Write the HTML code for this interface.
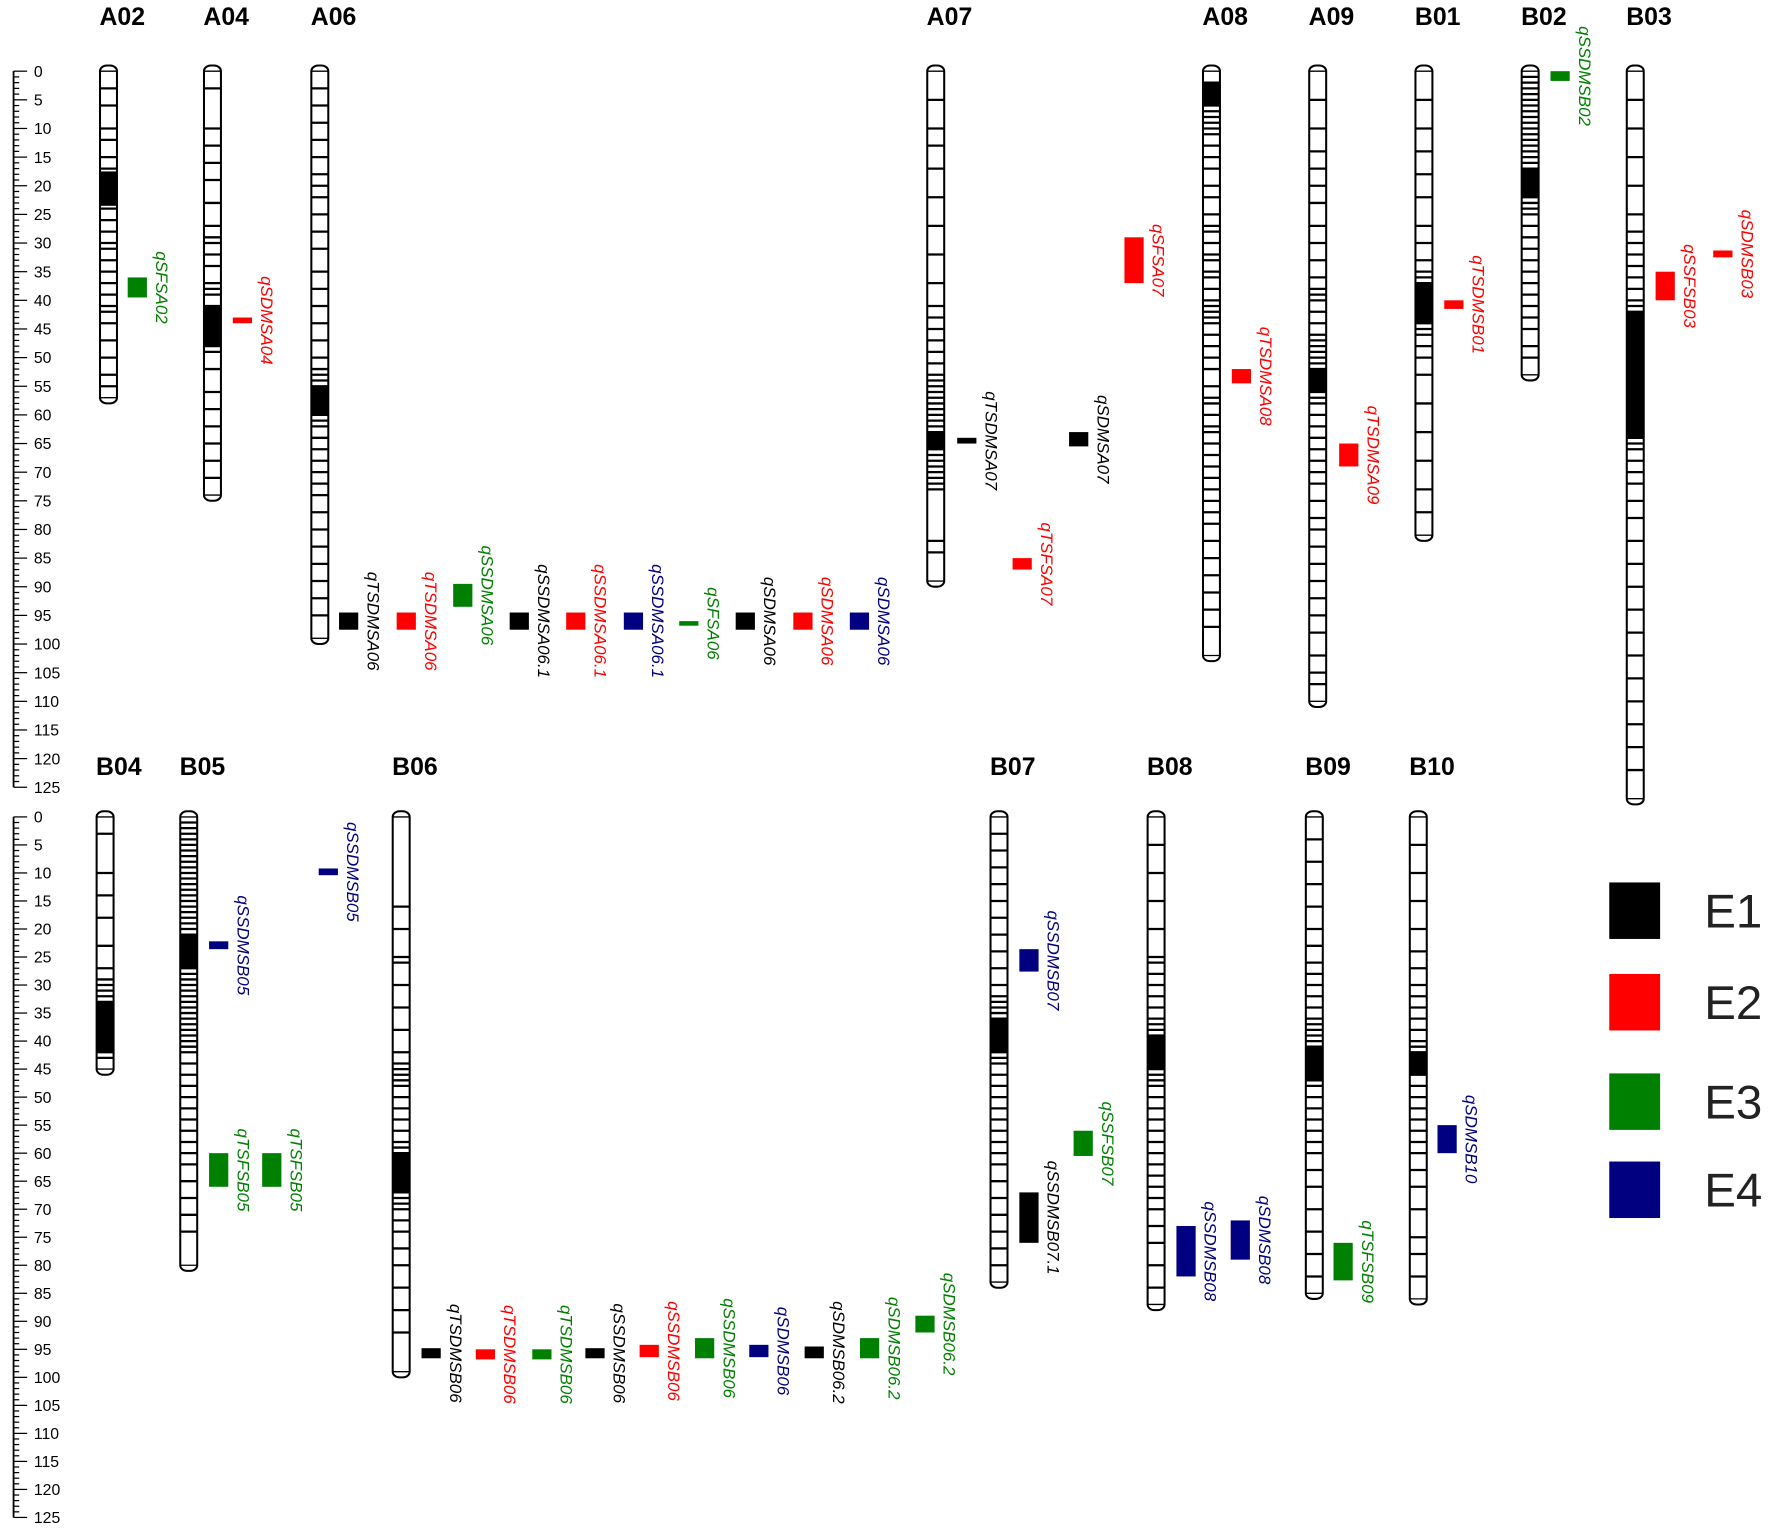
<!DOCTYPE html>
<html><head><meta charset="utf-8">
<style>
html,body{margin:0;padding:0;background:#fff;}
svg{display:block;}
text{font-family:"Liberation Sans",sans-serif;}
</style></head>
<body>
<svg id="chart" width="1772" height="1531" viewBox="0 0 1568 1355" preserveAspectRatio="none" xmlns="http://www.w3.org/2000/svg"></svg>
<script>
// ---- data ----
const chromNames = ["A02","A04","A06","A07","A08","A09","B01","B02","B03","B04","B05","B06","B07","B08","B09","B10"];
const chromLengths = [57,74,99,89,102,110,81,53,127,45,80,99,83,87,85,86];
const chromPanel = [0,0,0,0,0,0,0,0,0,1,1,1,1,1,1,1];
const chromMarkers = [
 [3,6,10,12,15,17,18,18.5,19,19.5,20,20.5,21,21.5,22,22.5,23,24,26,28,30,31,33,35,37,39,41,42,44,47,50,53,55],
 [3,10,13,16,19,23,27,29,30,32,34,37,38,39,41,41.5,42,42.5,43,43.5,44,44.5,45,46,47,48,49,52,56,59,62,65,68,71],
 [3,6,9,12,15,18,20,22,25,28,31,35,38,41,44,47,50,52,53,54,55,56,57,57.5,58,58.5,59,60,61,62,64,66,68,70,72,74,77,80,83,86,89,92,95],
 [5,10,13,17,22,27,32,37,41,43,45,47,49,51,53,54,55,56,57,58,59,60,61,62,63,63.5,64,64.5,65,66,67,68,69,70,71,72,73,82,84],
 [2,3,4,5,6,7,8,9,10,11,13,15,17,20,22,25,27,28,30,32,33,35,36,38,40,41,42,43,44,46,48,50,52,55,57,58,60,62,63,65,67,69,71,73,75,77,79,82,85,88,91,94,97],
 [5,10,14,17,20,23,27,30,33,36,38,39,40,42,44,46,47,48,49,50,51,52,53,53.5,54,54.5,55,56,57,58,60,62,64,66,68,70,72,75,78,80,83,86,89,92,95,98,102,105,107],
 [5,10,14,18,22,27,30,33,35,36,37,38,38.5,39,39.5,40,41,42,43,44,45,46,48,50,53,58,63,68,73,77],
 [1,2,3,4,5,6,7,8,9,10,11,12,13,14,15,16,17,18,18.5,19,19.5,20,21,22,23,24,25,27,29,31,33,35,37,39,41,43,45,48,50],
 [5,10,15,20,25,28,30,32,34,36,38,40,41,42,43,44,45,46,47,48,49,50,51,52,53,54,55,56,57,58,59,60,61,62,63,64,65,66,68,70,72,75,78,82,86,90,94,98,102,106,110,114,118,122],
 [3,10,14,18,23,27,29,30,31,32,33,34,35,36,37,38,39,40,41,42,43],
 [1,2,3,4,5,6,7,8,9,10,11,12,13,14,15,16,17,18,19,20,21,22,23,23.5,24,24.5,25,26,27,28,29,30,31,32,33,34,35,36,37,38,39,40,41,42,44,46,48,50,52,54,56,58,60,62,65,68,71,74],
 [16,20,25,26,30,34,38,42,44,45,46,47,48,50,52,54,56,58,59,60,61,62,62.5,63,63.5,64,65,66,67,68,69,70,72,74,77,80,84,88,92],
 [3,6,9,12,15,18,21,24,27,30,32,33,34,35,36,37,38,38.5,39,39.5,40,41,42,43,44,46,48,50,52,54,56,58,60,62,65,68,71,74,77,80],
 [5,10,15,20,25,26,28,30,32,34,36,37,38,39,40,40.5,41,41.5,42,43,44,45,46,47,48,50,52,54,56,58,60,62,64,66,68,70,73,76,80,84],
 [4,8,12,16,20,23,26,28,30,32,34,36,37,38,39,40,41,42,43,43.5,44,45,46,47,48,50,52,54,56,58,60,63,66,70,74,78,82],
 [5,10,15,20,24,27,30,32,34,36,38,40,41,42,43,43.5,44,44.5,45,46,48,50,52,54,56,58,60,63,66,70,75,78,82]
];
// dense marker clusters (start cM, end cM) drawn solid
const denseStart = [17.5,41,55,63,2,52,37,17,42,33,21,60,36,39,41,42];
const denseEnd   = [23.5,48,60,66,6,56,44,22,64,42,27,67,42,45,47,46];
const qtlNames = ["qSFSA02","qSDMSA04","qTSDMSA06","qTSDMSA06","qSSDMSA06","qSSDMSA06.1","qSSDMSA06.1","qSSDMSA06.1","qSFSA06","qSDMSA06","qSDMSA06","qSDMSA06",
 "qTSDMSA07","qSDMSA07","qTSFSA07","qSFSA07","qTSDMSA08","qTSDMSA09","qTSDMSB01","qSSDMSB02","qSSFSB03","qSDMSB03",
 "qSSDMSB05","qSSDMSB05","qTSFSB05","qTSFSB05",
 "qTSDMSB06","qTSDMSB06","qTSDMSB06","qSSDMSB06","qSSDMSB06","qSSDMSB06","qSDMSB06","qSDMSB06.2","qSDMSB06.2","qSDMSB06.2",
 "qSSDMSB07","qSSFSB07","qSSDMSB07.1","qSSDMSB08","qSDMSB08","qTSFSB09","qSDMSB10"];
const qtlPanel = [0,0,0,0,0,0,0,0,0,0,0,0, 0,0,0,0,0,0,0,0,0,0, 1,1,1,1, 1,1,1,1,1,1,1,1,1,1, 1,1,1,1,1,1,1];
const qtlStart = [36,43,94.5,94.5,89.5,94.5,94.5,94.5,96,94.5,94.5,94.5, 64,63,85,29,52,65,40,0,35,31.3, 22.2,9.2,60,60, 94.8,95,95,94.8,94.2,93,94.2,94.5,93,89, 23.6,56,67,73,72,76,55];
const qtlEnd   = [39.5,44,97.5,97.5,93.5,97.5,97.5,97.5,96.8,97.5,97.5,97.5, 65,65.5,87,37,54.5,69,41.5,1.7,40,32.5, 23.6,10.4,66,66, 96.6,96.8,96.8,96.6,96.4,96.6,96.4,96.6,96.6,92, 27.6,60.5,76,82,79,82.7,60];
const qtlEnv   = [3,2,1,2,3,1,2,4,3,1,2,4, 1,1,2,2,2,2,2,3,2,2, 4,4,3,3, 1,2,3,1,2,3,4,1,3,3, 4,3,1,4,4,3,4];
const legendLabels = ["E1","E2","E3","E4"];
const rulerTicks = [0,5,10,15,20,25,30,35,40,45,50,55,60,65,70,75,80,85,90,95,100,105,110,115,120,125];

// ---- layout (not data) ----
const envColors = ["#000000","#ff0000","#008000","#000080"];
const panelY0 = [63,723], panelScale = [5.07,4.96];
const chromCX = [96,188,283,828,1072,1166,1260,1354,1447, 93,167,355,884,1023,1163,1255];
const chromLabelY = [22,686];
const qtlX = [113,206,300,351,401,451,501,552,601,651,702,752, 847,946,896,995,1090,1185,1278,1372,1465,1516, 185,282,185,232, 373,421,471,518,566,615,663,712,761,810, 902,950,902,1041,1089,1180,1272];

function yScale(p,cm){return panelY0[p]+cm*panelScale[p];}
const svg=document.getElementById('chart');
const NS="http://www.w3.org/2000/svg";
function mk(tag,attrs,parent){const e=document.createElementNS(NS,tag);for(const k in attrs)e.setAttribute(k,attrs[k]);(parent||svg).appendChild(e);return e;}

// rulers
for(let p=0;p<2;p++){
  const g=mk('g',{});
  
  
  mk('line',{x1:12,x2:12,y1:yScale(p,0),y2:yScale(p,125),stroke:'#000','stroke-width':1.6},g);
  for(let c=0;c<=125;c++){
    const y=yScale(p,c);
    const len = c%5===0?12:5;
    mk('line',{x1:12,x2:12+len,y1:y,y2:y,stroke:'#000','stroke-width':1.1},g);
  }
  rulerTicks.forEach(t=>{
    const tx=mk('text',{x:30,y:yScale(p,t)+5,'font-size':14,fill:'#000'},g);
    
    
    tx.textContent=t;
  });
}

// chromosomes
chromNames.forEach((n,i)=>{
  const p=chromPanel[i], cx=chromCX[i], w=15;
  const g=mk('g',{});
  
  
  const t=mk('text',{x:cx-8,y:chromLabelY[p],'font-size':22,'font-weight':'bold',fill:'#000'},g);
  
  
  t.textContent=n;
  const y0=yScale(p,0), y1=yScale(p,chromLengths[i]);
  mk('rect',{x:cx-w/2,y:y0-5,width:w,height:y1-y0+10,rx:6,ry:5,fill:'#fff',stroke:'#000','stroke-width':1.8},g);
  mk('line',{x1:cx-w/2,x2:cx+w/2,y1:y0,y2:y0,stroke:'#000','stroke-width':1.2},g);
  mk('line',{x1:cx-w/2,x2:cx+w/2,y1:y1,y2:y1,stroke:'#000','stroke-width':1.2},g);
  chromMarkers[i].forEach(m=>{
    if(m>chromLengths[i])return;
    const y=yScale(p,m);
    const l=mk('line',{x1:cx-w/2,x2:cx+w/2,y1:y,y2:y,stroke:'#000','stroke-width':2},g);
    
    
  });
  const ds=yScale(p,denseStart[i]), de=yScale(p,denseEnd[i]);
  const d=mk('rect',{x:cx-w/2,y:ds,width:w,height:de-ds,fill:'#000'},g);
  
  
});

// QTLs
qtlNames.forEach((n,i)=>{
  const p=qtlPanel[i], x=qtlX[i], col=envColors[qtlEnv[i]-1];
  const y0=yScale(p,qtlStart[i]); let h=yScale(p,qtlEnd[i])-y0; let yy=y0;
  if(h<3.5){yy=y0+h/2-1.75;h=3.5;}
  const r=mk('rect',{x:x,y:yy,width:17,height:h,fill:col});
  
  
  const cy=yy+h/2;
  const t=mk('text',{transform:`translate(${x+25},${cy}) rotate(90)`,'text-anchor':'middle','font-size':15,'font-style':'italic',fill:col});
  
  
  t.textContent=n;
});

// legend
const lgY=[781,862,950,1028];
legendLabels.forEach((l,i)=>{
  const g=mk('g',{});
  
  
  mk('rect',{x:1424,y:lgY[i],width:45,height:50,fill:envColors[i]},g);
  const t=mk('text',{x:1508,y:lgY[i]+40,'font-size':42,fill:'#222'},g);
  t.textContent=l;
});
</script>
</body></html>
